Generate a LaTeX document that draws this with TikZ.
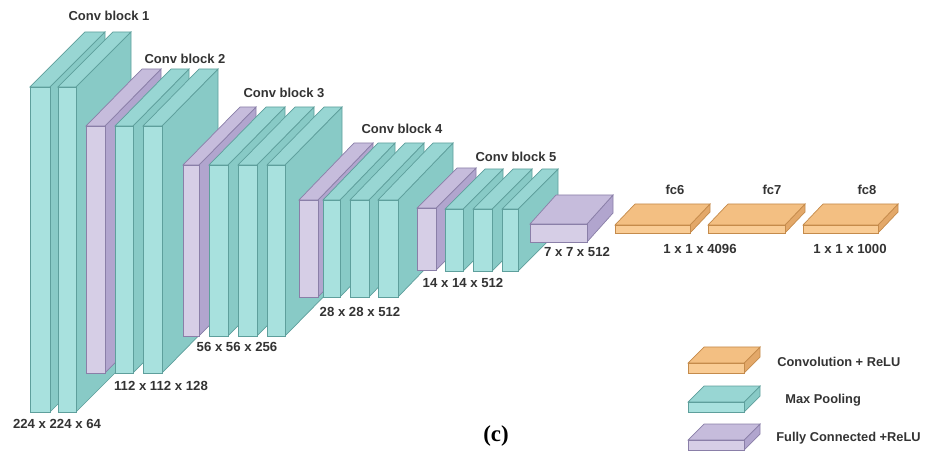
\documentclass[tikz,border=0pt]{standalone}
\usepackage{fontspec}
\setmainfont{Liberation Sans}
\newfontfamily\capfont{Liberation Serif}
\usetikzlibrary{positioning}

% face colours of the slabs
\definecolor{tealfront}{HTML}{A8E1DE}
\definecolor{tealtop}{HTML}{98D6D3}
\definecolor{tealside}{HTML}{88CAC6}
\definecolor{tealedge}{HTML}{5E9F9C}
\definecolor{lilacfront}{HTML}{D6CEE6}
\definecolor{lilactop}{HTML}{C6BCDC}
\definecolor{lilacside}{HTML}{B1A5CE}
\definecolor{lilacedge}{HTML}{8A7FA8}
\definecolor{orangefront}{HTML}{F9CC95}
\definecolor{orangetop}{HTML}{F3BF82}
\definecolor{orangeside}{HTML}{E3A869}
\definecolor{orangeedge}{HTML}{C58B4B}
\definecolor{labelgray}{HTML}{333333}

% slab: x1, x2, top, bottom, depth x, depth y, colour
\newcommand{\slab}[7]{%
  \filldraw[fill=#7side,draw=#7edge,line width=0.4pt] (#2,#3) -- (#2+#5,#3-#6) -- (#2+#5,#4-#6) -- (#2,#4) -- cycle;
  \filldraw[fill=#7top,draw=#7edge,line width=0.4pt] (#1,#3) -- (#1+#5,#3-#6) -- (#2+#5,#3-#6) -- (#2,#3) -- cycle;
  \filldraw[fill=#7front,draw=#7edge,line width=0.4pt] (#1,#3) rectangle (#2,#4);
}

\tikzset{
  blocktitle/.style={text=labelgray,font=\fontsize{7.4}{8}\selectfont\bfseries,inner sep=0pt},
  dimlabel/.style={text=labelgray,font=\fontsize{7.5}{8}\selectfont\bfseries,inner sep=0pt},
  legendtext/.style={text=labelgray,font=\fontsize{7.3}{8}\selectfont\bfseries,inner sep=0pt,anchor=west}
}

\begin{document}
\begin{tikzpicture}[x=0.02cm,y=-0.02cm]
  \useasboundingbox (0,0) rectangle (925,455);

  % Conv block 1
  \foreach \a/\b in {30/50,58/76} { \slab{\a}{\b}{87}{412}{55}{55}{teal} }
  % Conv block 2
  \slab{86}{105}{126}{373}{56}{57}{lilac}
  \foreach \a/\b in {115/133,143/162} { \slab{\a}{\b}{126}{373}{56}{57}{teal} }
  % Conv block 3
  \slab{183}{199}{165}{336}{57}{58}{lilac}
  \foreach \a/\b in {209/228,238/257,267/285} { \slab{\a}{\b}{165}{336}{57}{58}{teal} }
  % Conv block 4
  \slab{299}{318}{200}{297}{55}{57}{lilac}
  \foreach \a/\b in {323/340,350/369,378/398} { \slab{\a}{\b}{200}{297}{55}{57}{teal} }
  % Conv block 5
  \slab{417}{436}{208}{270}{40}{40}{lilac}
  \foreach \a/\b in {445/463,473/492,502/518} { \slab{\a}{\b}{209}{271}{40}{40}{teal} }
  % pooled output and fully connected layers
  \slab{530}{587}{224}{242}{26}{29}{lilac}
  \foreach \a/\b in {615/690,708/785,803/878} { \slab{\a}{\b}{225}{233}{20}{21}{orange} }

  % titles
  \node[blocktitle] (cb1) at (109,16) {Conv block 1};
  \node[blocktitle] (cb2) at (185,59) {Conv block 2};
  \node[blocktitle] (cb3) at (284,93) {Conv block 3};
  \node[blocktitle] (cb4) at (402,129) {Conv block 4};
  \node[blocktitle] (cb5) at (516,157) {Conv block 5};
  \node[blocktitle] (fc6) at (675,190) {fc6};
  \node[blocktitle] (fc7) at (772,190) {fc7};
  \node[blocktitle] (fc8) at (867,190) {fc8};

  % sizes
  \node[dimlabel] (dim1) at (57,424) {224 x 224 x 64};
  \node[dimlabel] (dim2) at (161,386) {112 x 112 x 128};
  \node[dimlabel] (dim3) at (237,347) {56 x 56 x 256};
  \node[dimlabel] (dim4) at (360,312) {28 x 28 x 512};
  \node[dimlabel] (dim5) at (463,283) {14 x 14 x 512};
  \node[dimlabel] (dim6) at (577,252) {7 x 7 x 512};
  \node[dimlabel] (dim7) at (700,249) {1 x 1 x 4096};
  \node[dimlabel] (dim8) at (850,249) {1 x 1 x 1000};

  % legend
  \slab{688}{744}{363}{373}{16}{16}{orange}
  \slab{688}{744}{402}{412}{16}{16}{teal}
  \slab{688}{744}{440}{450}{16}{16}{lilac}
  \node[legendtext] (leg1) at (777,362) {Convolution + ReLU};
  \node[legendtext] (leg2) at (785,400) {Max Pooling};
  \node[legendtext] (leg3) at (776,438) {Fully Connected +ReLU};

  \node[font=\capfont\fontsize{13}{14}\selectfont\bfseries,inner sep=0pt] (cap) at (496,436) {(c)};
\end{tikzpicture}
\end{document}
